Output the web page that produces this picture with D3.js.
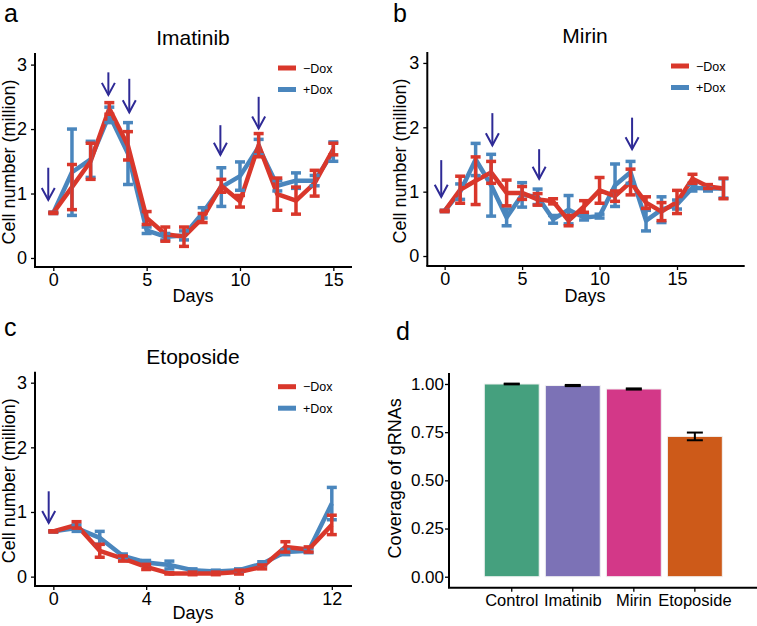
<!DOCTYPE html>
<html><head><meta charset="utf-8">
<script src="https://cdn.jsdelivr.net/npm/d3@7"></script>
<style>
body{margin:0;background:#fff;}
text{font-family:"Liberation Sans",Arial,Helvetica,sans-serif;fill:#000;}
</style></head>
<body>
<svg id="chart" width="757" height="626"></svg>
<script>
// ---------- Data ----------
const seriesNames = ["\u2212Dox", "+Dox"];
const seriesColors = ["#d9372b", "#4a86bd"];
const arrowColor = "#2e2a96";

// Panel a: Imatinib
const imatinibDays = d3.range(0, 16);
const imatinibMinus = [0.70,1.10,1.50,2.32,1.74,0.62,0.37,0.33,0.62,1.12,0.88,1.75,0.99,0.89,1.16,1.69];
const imatinibMinusErr = [0.01,0.35,0.28,0.09,0.22,0.10,0.11,0.15,0.07,0.10,0.09,0.18,0.25,0.21,0.20,0.09];
const imatinibPlus = [0.70,1.33,1.53,2.22,1.62,0.43,0.33,0.35,0.70,1.10,1.27,1.72,1.12,1.20,1.20,1.65];
const imatinibPlusErr = [0.01,0.67,0.28,0.12,0.48,0.05,0.05,0.07,0.08,0.30,0.22,0.12,0.08,0.12,0.08,0.15];
const imatinibArrowX = [-0.27, 2.95, 4.07, 8.95, 11.0];
const imatinibArrowTop = [1.40, 2.88, 2.78, 2.06, 2.50];
const imatinibArrowTip = [0.90, 2.53, 2.26, 1.60, 2.01];
const imatinibTicks = [0, 5, 10, 15];

// Panel b: Mirin
const mirinDays = d3.range(0, 19);
const mirinMinus = [0.70,1.03,1.17,1.30,0.98,0.98,0.88,0.85,0.55,0.77,1.02,0.93,1.15,0.83,0.69,0.84,1.20,1.08,1.05];
const mirinMinusErr = [0.01,0.21,0.37,0.17,0.20,0.10,0.09,0.04,0.08,0.09,0.20,0.08,0.20,0.09,0.14,0.18,0.07,0.03,0.16];
const mirinPlus = [0.70,1.00,1.50,1.10,0.60,0.95,0.92,0.57,0.72,0.60,0.62,1.10,1.30,0.55,0.72,0.80,1.06,1.05,1.05];
const mirinPlusErr = [0.01,0.12,0.25,0.48,0.13,0.19,0.12,0.06,0.22,0.04,0.03,0.33,0.17,0.16,0.20,0.07,0.05,0.04,0.15];
const mirinArrowX = [-0.22, 3.08, 6.1, 12.1];
const mirinArrowTop = [1.49, 2.22, 1.66, 2.15];
const mirinArrowTip = [0.92, 1.72, 1.20, 1.66];
const mirinTicks = [0, 5, 10, 15];

// Panel c: Etoposide
const etoposideDays = d3.range(0, 13);
const etoposideMinus = [0.70,0.80,0.40,0.28,0.15,0.05,0.05,0.05,0.07,0.15,0.46,0.42,0.80];
const etoposideMinusErr = [0.01,0.05,0.10,0.04,0.04,0.01,0.02,0.02,0.03,0.03,0.08,0.04,0.15];
const etoposidePlus = [0.70,0.75,0.60,0.32,0.22,0.18,0.10,0.08,0.10,0.20,0.38,0.40,1.13];
const etoposidePlusErr = [0.01,0.05,0.10,0.03,0.03,0.06,0.02,0.02,0.02,0.03,0.04,0.03,0.25];
const etoposideArrowX = [-0.2];
const etoposideArrowTop = [1.32];
const etoposideArrowTip = [0.83];
const etoposideTicks = [0, 4, 8, 12];

const cellTicks = [0, 1, 2, 3];

// Panel d: coverage
const coverageCategories = ["Control", "Imatinib", "Mirin", "Etoposide"];
const coverageValues = [1.000, 0.992, 0.974, 0.728];
const coverageErr = [0.002, 0.003, 0.003, 0.020];
const coverageColors = ["#45a07e", "#7c72b6", "#d33888", "#cd5a19"];
const coverageTicks = [0, 0.25, 0.5, 0.75, 1.0];

// ---------- Drawing ----------
const svg = d3.select("#chart");
const FONT_TICK = 18, FONT_AXIS = 18, FONT_TITLE = 21, FONT_LABEL = 25;

function axesFrame(g, x0, x1, y0, y1) {
  g.append("line").attr("x1", x0 - 1).attr("x2", x1).attr("y1", y0).attr("y2", y0)
    .attr("stroke", "#000").attr("stroke-width", 2);
  g.append("line").attr("x1", x0).attr("x2", x0).attr("y1", y0).attr("y2", y1)
    .attr("stroke", "#000").attr("stroke-width", 2);
}

function styleAxis(a, size) {
  a.select(".domain").remove();
  a.selectAll(".tick line").attr("stroke", "#000").attr("stroke-width", 1.3);
  a.selectAll(".tick text").attr("font-size", size).attr("fill", "#000")
    .style("font-family", '"Liberation Sans",Arial,sans-serif');
}

function linePanel(cfg) {
  const g = svg.append("g");
  const x = d3.scaleLinear().domain(cfg.xDomain).range(cfg.xRange);
  const y = d3.scaleLinear().domain(cfg.yDomain).range(cfg.yRange);
  const [x0, x1] = cfg.xRange, [y0, y1] = cfg.yRange;

  const xa = g.append("g").attr("transform", `translate(0,${y0})`)
    .call(d3.axisBottom(x).tickValues(cfg.xTicks).tickSize(4).tickPadding(2).tickFormat(d3.format("d")));
  const ya = g.append("g").attr("transform", `translate(${x0},0)`)
    .call(d3.axisLeft(y).tickValues(cellTicks).tickSize(4).tickPadding(4).tickFormat(d3.format("d")));
  styleAxis(xa, FONT_TICK);
  styleAxis(ya, FONT_TICK);
  axesFrame(g, x0, x1, y0, y1);

  g.append("text").attr("x", cfg.cx).attr("y", cfg.titleY).attr("text-anchor", "middle")
    .attr("font-size", FONT_TITLE).text(cfg.title);
  g.append("text").attr("x", cfg.cx).attr("y", cfg.daysY).attr("text-anchor", "middle")
    .attr("font-size", FONT_AXIS).text("Days");
  g.append("text").attr("transform", `translate(${cfg.yTitleX},${(y0 + y1) / 2 + 2}) rotate(-90)`)
    .attr("text-anchor", "middle").attr("font-size", FONT_AXIS).text("Cell number (million)");
  g.append("text").attr("x", cfg.labelX).attr("y", cfg.labelY).attr("font-size", FONT_LABEL).text(cfg.label);

  const series = [
    {v: cfg.plus, e: cfg.plusErr, c: seriesColors[1]},
    {v: cfg.minus, e: cfg.minusErr, c: seriesColors[0]}
  ];
  const line = d3.line().x((d, i) => x(cfg.days[i])).y(d => y(d));
  series.forEach(s => {
    g.append("path").datum(s.v).attr("d", line).attr("fill", "none")
      .attr("stroke", s.c).attr("stroke-width", 4.5).attr("stroke-linejoin", "round");
  });
  series.forEach(s => {
    const eb = g.append("g");
    s.v.forEach((m, i) => {
      const cx = x(cfg.days[i]);
      const lo = y(m - s.e[i]), hi = y(m + s.e[i]);
      eb.append("line").attr("x1", cx).attr("x2", cx).attr("y1", lo).attr("y2", hi)
        .attr("stroke", s.c).attr("stroke-width", 3.5);
      [lo, hi].forEach(yy => eb.append("line").attr("x1", cx - 5).attr("x2", cx + 5)
        .attr("y1", yy).attr("y2", yy).attr("stroke", s.c).attr("stroke-width", 3.5));
    });
  });

  cfg.arrowX.forEach((ax, i) => {
    const px = x(ax), pt = y(cfg.arrowTop[i]), pb = y(cfg.arrowTip[i]);
    g.append("line").attr("x1", px).attr("x2", px).attr("y1", pt).attr("y2", pb)
      .attr("stroke", arrowColor).attr("stroke-width", 2);
    g.append("path").attr("d", `M${px - 6.5},${pb - 12} L${px},${pb} L${px + 6.5},${pb - 12}`)
      .attr("fill", "none").attr("stroke", arrowColor).attr("stroke-width", 2);
  });

  seriesNames.forEach((n, i) => {
    const ly = cfg.legendY + i * 21.5;
    g.append("line").attr("x1", cfg.legendX).attr("x2", cfg.legendX + 18).attr("y1", ly).attr("y2", ly)
      .attr("stroke", seriesColors[i]).attr("stroke-width", 5);
    g.append("text").attr("x", cfg.legendX + 25).attr("y", ly + 4.5).attr("font-size", 12.5).text(n);
  });
}

linePanel({
  label: "a", labelX: 4, labelY: 22, title: "Imatinib", cx: 193, titleY: 45, daysY: 302, yTitleX: 15,
  days: imatinibDays, minus: imatinibMinus, minusErr: imatinibMinusErr, plus: imatinibPlus, plusErr: imatinibPlusErr,
  arrowX: imatinibArrowX, arrowTop: imatinibArrowTop, arrowTip: imatinibArrowTip, xTicks: imatinibTicks,
  xDomain: [-0.98, 16.0], xRange: [35, 352], yDomain: [-0.14, 3.18], yRange: [267, 53],
  legendX: 278, legendY: 68
});
linePanel({
  label: "b", labelX: 393, labelY: 22, title: "Mirin", cx: 585, titleY: 43, daysY: 302, yTitleX: 406,
  days: mirinDays, minus: mirinMinus, minusErr: mirinMinusErr, plus: mirinPlus, plusErr: mirinPlusErr,
  arrowX: mirinArrowX, arrowTop: mirinArrowTop, arrowTip: mirinArrowTip, xTicks: mirinTicks,
  xDomain: [-1.12, 19.37], xRange: [427.3, 744.7], yDomain: [-0.155, 3.17], yRange: [266, 52],
  legendX: 671, legendY: 66
});
linePanel({
  label: "c", labelX: 4, labelY: 336, title: "Etoposide", cx: 193, titleY: 364, daysY: 619, yTitleX: 15,
  days: etoposideDays, minus: etoposideMinus, minusErr: etoposideMinusErr, plus: etoposidePlus, plusErr: etoposidePlusErr,
  arrowX: etoposideArrowX, arrowTop: etoposideArrowTop, arrowTip: etoposideArrowTip, xTicks: etoposideTicks,
  xDomain: [-0.79, 12.87], xRange: [35, 352], yDomain: [-0.145, 3.17], yRange: [586, 371.7],
  legendX: 278, legendY: 386.7
});

// Panel d
(function () {
  const g = svg.append("g");
  const x0 = 449, x1 = 757, y0 = 587.7, y1 = 373;
  const x = d3.scaleBand().domain(coverageCategories).range([450.7, 755.9]).paddingInner(0.1).paddingOuter(0.55);
  const y = d3.scaleLinear().domain([-0.057, 1.057]).range([y0, y1]);
  const xa = g.append("g").attr("transform", `translate(0,${y0})`)
    .call(d3.axisBottom(x).tickSize(4).tickPadding(3));
  const ya = g.append("g").attr("transform", `translate(${x0},0)`)
    .call(d3.axisLeft(y).tickValues(coverageTicks).tickSize(4).tickPadding(1).tickFormat(d3.format(".2f")));
  styleAxis(xa, 16.5);
  styleAxis(ya, 17);
  g.append("g").selectAll("rect").data(coverageCategories).join("rect")
    .attr("x", d => x(d)).attr("width", x.bandwidth())
    .attr("y", (d, i) => y(coverageValues[i])).attr("height", (d, i) => y(0) - y(coverageValues[i]))
    .attr("fill", (d, i) => coverageColors[i]).attr("stroke", "#f2f2f2").attr("stroke-width", 1);
  coverageCategories.forEach((c, i) => {
    const cx = x(c) + x.bandwidth() / 2;
    const lo = y(coverageValues[i] - coverageErr[i]), hi = y(coverageValues[i] + coverageErr[i]);
    g.append("line").attr("x1", cx).attr("x2", cx).attr("y1", lo).attr("y2", hi).attr("stroke", "#000").attr("stroke-width", 2);
    [lo, hi].forEach(yy => g.append("line").attr("x1", cx - 8).attr("x2", cx + 8).attr("y1", yy).attr("y2", yy)
      .attr("stroke", "#000").attr("stroke-width", 2));
  });
  axesFrame(g, x0, x1, y0, y1);
  g.append("text").attr("transform", `translate(401,${(y0 + y1) / 2 - 2}) rotate(-90)`)
    .attr("text-anchor", "middle").attr("font-size", FONT_AXIS).text("Coverage of gRNAs");
  g.append("text").attr("x", 396).attr("y", 340).attr("font-size", FONT_LABEL).text("d");
})();
</script>
</body></html>
